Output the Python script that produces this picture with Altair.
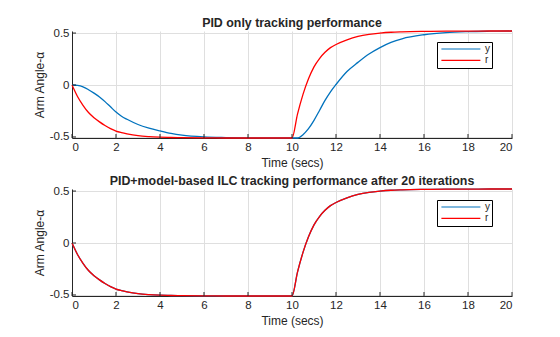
import altair as alt
import pandas as pd

# ---- data ----
time_s = [0, 0.25, 0.5, 0.75, 1, 1.25, 1.5, 1.75, 2, 2.25, 2.5, 3, 3.5, 4, 4.5, 5, 6, 7, 8,
          9, 10, 10.25, 10.5, 10.75, 11, 11.25, 11.5, 11.75, 12, 12.5, 13, 13.5, 14, 14.5,
          15, 16, 17, 18, 19, 20]

r_ref = [0, -0.11, -0.195, -0.265, -0.315, -0.355, -0.39, -0.42, -0.443, -0.458, -0.47,
         -0.488, -0.497, -0.502, -0.505, -0.507, -0.509, -0.51, -0.51, -0.51, -0.51,
         -0.28, -0.09, 0.06, 0.175, 0.255, 0.315, 0.36, 0.39, 0.435, 0.468, 0.488, 0.5,
         0.508, 0.512, 0.516, 0.518, 0.519, 0.52, 0.52]

y_pid = [0, -0.004, -0.018, -0.045, -0.078, -0.115, -0.16, -0.21, -0.26, -0.3, -0.33,
         -0.38, -0.415, -0.442, -0.466, -0.483, -0.5, -0.506, -0.509, -0.51, -0.51,
         -0.51, -0.478, -0.42, -0.34, -0.245, -0.148, -0.065, 0.005, 0.13, 0.218, 0.298,
         0.36, 0.41, 0.445, 0.484, 0.505, 0.514, 0.518, 0.52]

y_ilc = [0, -0.11, -0.195, -0.265, -0.315, -0.355, -0.39, -0.42, -0.443, -0.458, -0.47,
         -0.488, -0.497, -0.502, -0.505, -0.507, -0.509, -0.51, -0.51, -0.51, -0.51,
         -0.28, -0.09, 0.06, 0.175, 0.255, 0.315, 0.36, 0.39, 0.435, 0.468, 0.488, 0.5,
         0.508, 0.512, 0.516, 0.518, 0.519, 0.52, 0.52]

series_names = ["y", "r"]
series_colors = ["#0072BD", "#FF0000"]
x_ticks = [0, 2, 4, 6, 8, 10, 12, 14, 16, 18, 20]
y_ticks = [-0.5, 0, 0.5]
titles = ["PID only tracking performance",
          "PID+model-based ILC tracking performance after 20 iterations"]
x_title = "Time (secs)"
y_title = "Arm Angle-α"

W, H = 440, 107
FONT = "Liberation Sans"
DARK = "#262626"


def make_color():
    return alt.Color("series:N",
                     scale=alt.Scale(domain=series_names, range=series_colors),
                     legend=alt.Legend(title=None, orient="none", legendX=365, legendY=11,
                                       direction="vertical", strokeColor="black",
                                       fillColor="white", padding=2,
                                       symbolType="M-0.65,0H9.1", symbolSize=64,
                                       symbolStrokeWidth=1.2, labelFontSize=10,
                                       labelFont=FONT, labelColor=DARK,
                                       labelOffset=36, rowPadding=1.3, cornerRadius=0))


xs = alt.X("t:Q", scale=alt.Scale(domain=[0, 20], nice=False),
           axis=alt.Axis(values=x_ticks, title=x_title, labelExpr="toString(datum.value)",
                         grid=True, ticks=False, labelPadding=3, titlePadding=5))
ys = alt.Y("v:Q", scale=alt.Scale(domain=[-0.51, 0.52], nice=False, zero=False),
           axis=alt.Axis(values=y_ticks, title=y_title, labelExpr="toString(datum.value)",
                         grid=True, ticks=False, labelPadding=3, titlePadding=3))


def panel(title, yvals, rvals):
    n = len(time_s)
    dy = pd.DataFrame({"t": time_s, "v": yvals, "series": ["y"] * n})
    dr = pd.DataFrame({"t": time_s, "v": rvals, "series": ["r"] * n})
    color = make_color()
    line_y = alt.Chart(dy).mark_line(strokeWidth=1.3, interpolate="monotone").encode(
        x=xs, y=ys, color=color)
    line_r = alt.Chart(dr).mark_line(strokeWidth=1.3, interpolate="monotone").encode(
        x=xs, y=ys, color=color)
    xt = alt.Chart(pd.DataFrame({"t": x_ticks})).mark_rule(color=DARK, strokeWidth=1).encode(
        x=alt.X("t:Q"), y=alt.value(H), y2=alt.value(H - 4))
    yt = alt.Chart(pd.DataFrame({"v": y_ticks})).mark_rule(color=DARK, strokeWidth=1).encode(
        y=alt.Y("v:Q"), x=alt.value(0), x2=alt.value(4))
    return alt.layer(line_y, line_r, xt, yt).properties(
        width=W, height=H,
        title=alt.Title(title, fontSize=12.4, fontWeight="bold", font=FONT, color=DARK,
                        anchor="middle", offset=-2, frame="group"))


chart = alt.vconcat(panel(titles[0], y_pid, r_ref), panel(titles[1], y_ilc, r_ref),
                    spacing=5).resolve_legend(color="independent").properties(
    padding={"left": 33, "top": 16, "right": 10, "bottom": 5},
    background="white"
).configure_view(stroke=None).configure_axis(
    labelFont=FONT, titleFont=FONT, labelFontSize=11.5, titleFontSize=12,
    titleFontWeight="normal", labelColor=DARK, titleColor=DARK,
    domainColor=DARK, domainWidth=1, gridColor="#dfdfdf", gridWidth=1
)

chart.save("out.html", embed_options={"renderer": "svg", "actions": False})
